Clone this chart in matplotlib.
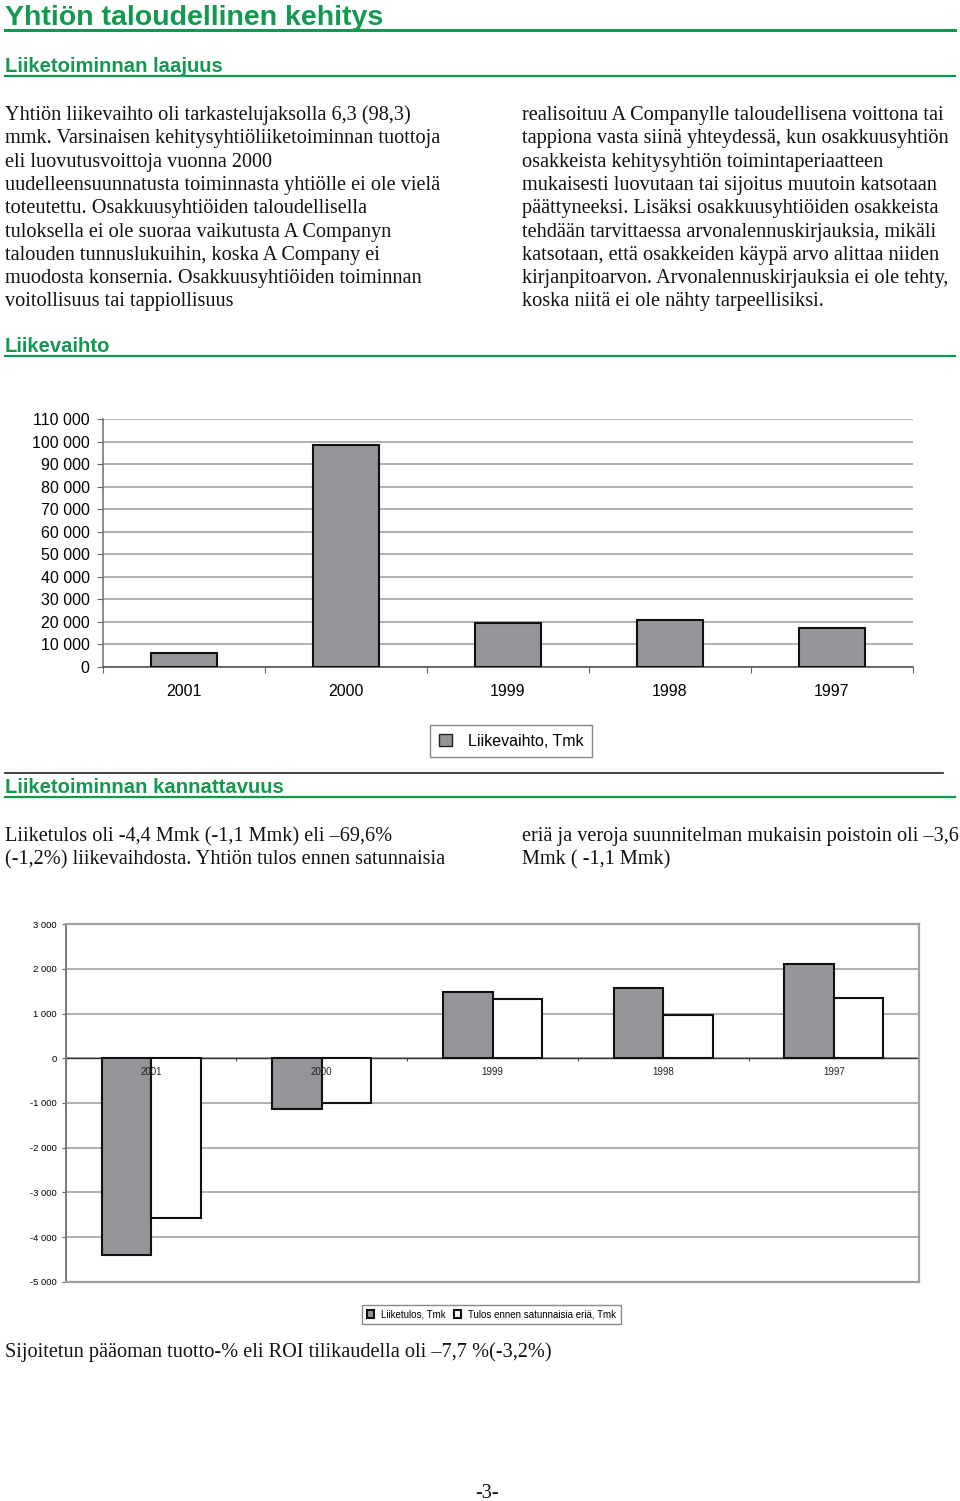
import matplotlib
matplotlib.use('Agg')
import matplotlib.pyplot as plt
from matplotlib.lines import Line2D
from matplotlib.patches import Patch
import numpy as np

# data
years = ['2001', '2000', '1999', '1998', '1997']
liikevaihto = [6300, 98300, 19700, 20800, 17400]       # Tmk
liiketulos = [-4400, -1130, 1490, 1570, 2120]           # Tmk
tulos_ennen = [-3580, -1000, 1320, 960, 1350]           # Tmk

left_col = [
    "Yhtiön liikevaihto oli tarkastelujaksolla 6,3 (98,3)",
    "mmk. Varsinaisen kehitysyhtiöliiketoiminnan tuottoja",
    "eli luovutusvoittoja vuonna 2000",
    "uudelleensuunnatusta toiminnasta yhtiölle ei ole vielä",
    "toteutettu. Osakkuusyhtiöiden taloudellisella",
    "tuloksella ei ole suoraa vaikutusta A Companyn",
    "talouden tunnuslukuihin, koska A Company ei",
    "muodosta konsernia. Osakkuusyhtiöiden toiminnan",
    "voitollisuus tai tappiollisuus",
]
right_col = [
    "realisoituu A Companylle taloudellisena voittona tai",
    "tappiona vasta siinä yhteydessä, kun osakkuusyhtiön",
    "osakkeista kehitysyhtiön toimintaperiaatteen",
    "mukaisesti luovutaan tai sijoitus muutoin katsotaan",
    "päättyneeksi. Lisäksi osakkuusyhtiöiden osakkeista",
    "tehdään tarvittaessa arvonalennuskirjauksia, mikäli",
    "katsotaan, että osakkeiden käypä arvo alittaa niiden",
    "kirjanpitoarvon. Arvonalennuskirjauksia ei ole tehty,",
    "koska niitä ei ole nähty tarpeellisiksi.",
]
left_col2 = ["Liiketulos oli -4,4 Mmk (-1,1 Mmk) eli \u201369,6%",
             "(-1,2%) liikevaihdosta. Yhtiön tulos ennen satunnaisia"]
right_col2 = ["eriä ja veroja suunnitelman mukaisin poistoin oli \u20133,6",
              "Mmk ( -1,1 Mmk)"]

W, H = 960, 1501
GREEN = '#12994f'
GRAY = '#939598'
SANS = 'Liberation Sans'
SERIF = 'Liberation Serif'
BODY = 14.6

fig = plt.figure(figsize=(W / 100, H / 100), dpi=100)
fig.patch.set_facecolor('white')


def fx(x):
    return x / W


def fy(y):
    return 1 - y / H


def hline(y, x0, x1, color, lw):
    fig.add_artist(Line2D([fx(x0), fx(x1)], [fy(y), fy(y)], color=color, lw=lw,
                          transform=fig.transFigure))


def heading(txt, y_base, y_line, size, lw):
    fig.text(fx(5), fy(y_base), txt, fontsize=size, fontweight='bold', color=GREEN,
             family=SANS, va='baseline', ha='left')
    hline(y_line, 5, 955, GREEN, lw)


heading("Yhtiön taloudellinen kehitys", 25, 29.5, 20.5, 2.2)
heading("Liiketoiminnan laajuus", 72, 76, 14.6, 1.6)
heading("Liikevaihto", 352, 356, 14.6, 1.6)
hline(773, 5, 943, '#222222', 1.2)
heading("Liiketoiminnan kannattavuus", 793, 797, 14.6, 1.6)

for i, s in enumerate(left_col):
    fig.text(fx(5), fy(120 + 23.3 * i), s, fontsize=BODY, family=SERIF, va='baseline', color='#111')
for i, s in enumerate(right_col):
    fig.text(fx(522), fy(120 + 23.3 * i), s, fontsize=BODY, family=SERIF, va='baseline', color='#111')
for i, s in enumerate(left_col2):
    fig.text(fx(5), fy(841 + 23.3 * i), s, fontsize=BODY, family=SERIF, va='baseline', color='#111')
for i, s in enumerate(right_col2):
    fig.text(fx(522), fy(841 + 23.3 * i), s, fontsize=BODY, family=SERIF, va='baseline', color='#111')

fig.text(fx(5), fy(1357), "Sijoitetun pääoman tuotto-% eli ROI tilikaudella oli \u20137,7 %(-3,2%)",
         fontsize=BODY, family=SERIF, va='baseline', color='#111')
fig.text(fx(487), fy(1493), "-3-", fontsize=BODY, family=SERIF, va='center', ha='center', color='#111')

x = np.arange(len(years))
bounds = np.arange(len(years) + 1) - 0.5


def fmt(v):
    return f"{v:,}".replace(',', ' ')


# ---- chart 1: Liikevaihto
ax1 = fig.add_axes([fx(102.7), fy(667), fx(913 - 102.7), (667 - 419) / H])
ax1.bar(x, liikevaihto, width=0.41, color=GRAY, edgecolor='#111', lw=1.5, zorder=3)
ax1.set_xlim(-0.5, 4.5)
ax1.set_ylim(0, 110000)
yt = np.arange(0, 110001, 10000)
ax1.set_yticks(yt)
ax1.set_yticklabels([fmt(v) for v in yt], fontsize=11.5, family=SANS)
ax1.yaxis.grid(True, color='#a3a3a3', lw=1.2)
ax1.set_axisbelow(True)
ax1.set_xticks(bounds)
ax1.set_xticklabels([])
ax1.set_xticks(x, minor=True)
ax1.set_xticklabels(years, minor=True, fontsize=11.5, family=SANS)
ax1.tick_params(axis='x', which='major', length=4, color='#666', direction='out')
ax1.tick_params(axis='x', which='minor', length=0, pad=12.5)
ax1.tick_params(axis='y', length=4.5, color='#666', pad=5)
for s in ['top', 'right']:
    ax1.spines[s].set_visible(False)
ax1.spines['left'].set_color('#777')
ax1.spines['bottom'].set_color('#555')
ax1.spines['left'].set_linewidth(1.2)
ax1.spines['bottom'].set_linewidth(1.2)

fig.legend(handles=[Patch(facecolor=GRAY, edgecolor='#222')], labels=['Liikevaihto, Tmk'],
           loc='center', bbox_to_anchor=(fx(511), fy(741)),
           prop={'family': SANS, 'size': 11.5}, frameon=True, fancybox=False,
           edgecolor='#888', handlelength=0.8, handleheight=0.8, handletextpad=1.0,
           borderpad=0.55, framealpha=1)

# ---- chart 2: Liiketulos / Tulos ennen satunnaisia eriä
ax2 = fig.add_axes([fx(65.7), fy(1281.7), fx(919.3 - 65.7), (1281.7 - 924.3) / H])
bw = 0.29
ax2.bar(x - bw / 2, liiketulos, width=bw, color=GRAY, edgecolor='#111', lw=1.5, zorder=3)
ax2.bar(x + bw / 2, tulos_ennen, width=bw, color='white', edgecolor='#111', lw=1.5, zorder=3)
ax2.set_xlim(-0.5, 4.5)
ax2.set_ylim(-5000, 3000)
yt2 = np.arange(-5000, 3001, 1000)
ax2.set_yticks(yt2)
ax2.set_yticklabels([fmt(v) for v in yt2], fontsize=6.8, family=SANS)
ax2.yaxis.grid(True, color='#a3a3a3', lw=1.2)
ax2.set_axisbelow(True)
ax2.axhline(0, color='#333', lw=1.0, zorder=2)
ax2.vlines(bounds, -70, 0, color='#444', lw=0.8, zorder=2)
ax2.set_xticks([])
for i, yr in enumerate(years):
    ax2.annotate(yr, (x[i], 0), xytext=(0, -10), textcoords='offset points',
                 ha='center', va='center', fontsize=7, family=SANS, color='#222', zorder=4)
ax2.tick_params(axis='y', length=3, color='#666', pad=3.5)
for s in ['top', 'right', 'bottom']:
    ax2.spines[s].set_color('#a0a0a0')
    ax2.spines[s].set_linewidth(1.6)
ax2.spines['left'].set_color('#777')
ax2.spines['left'].set_linewidth(1.4)

fig.legend(handles=[Patch(facecolor=GRAY, edgecolor='#111', lw=1.5),
                    Patch(facecolor='white', edgecolor='#111', lw=1.5)],
           labels=['Liiketulos, Tmk', 'Tulos ennen satunnaisia eriä, Tmk'],
           loc='center', bbox_to_anchor=(fx(491.5), fy(1314.5)), ncol=2,
           prop={'family': SANS, 'size': 7}, frameon=True, fancybox=False,
           edgecolor='#888', handlelength=0.8, handleheight=0.8, handletextpad=0.7,
           columnspacing=0.8, borderpad=0.45, framealpha=1)

fig.savefig('out.png', dpi=100)
